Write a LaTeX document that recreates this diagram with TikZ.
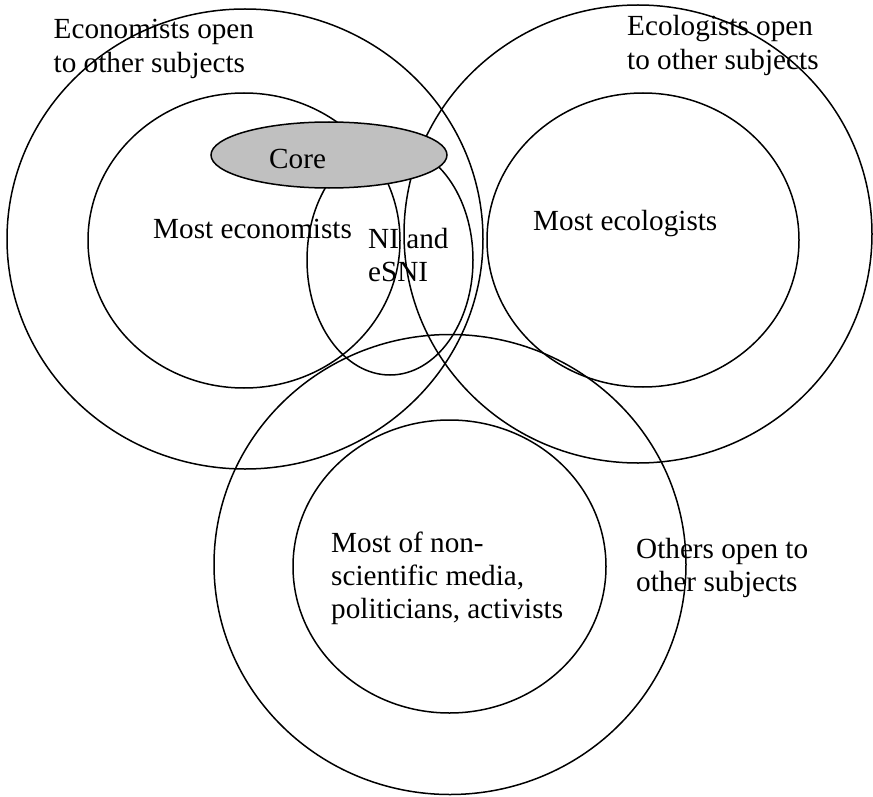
\documentclass[tikz,border=0pt]{standalone}
\usepackage{fontspec}
\setmainfont{Liberation Serif}
\usetikzlibrary{shapes.geometric}
\definecolor{coregray}{RGB}{192,192,192}
\begin{document}
\begin{tikzpicture}[x=1pt,y=-1pt,
  ring/.style={draw, ellipse, line width=1.5pt, inner sep=0pt, outer sep=0pt},
  lbl/.style={anchor=base west, inner sep=0pt, font=\fontsize{29.2}{33.6}\selectfont}]
\useasboundingbox (0,0) rectangle (873,797);
% outer circles
\node[ring, minimum width=476pt, minimum height=460pt] (econOuter) at (245,239) {};
\node[ring, minimum width=468pt, minimum height=458pt] (ecoOuter) at (638,234) {};
\node[ring, minimum width=472pt, minimum height=460pt] (othOuter) at (450,564.5) {};
% inner circles
\node[ring, minimum width=312pt, minimum height=295pt] (econInner) at (244,240.5) {};
\node[ring, minimum width=312pt, minimum height=294pt] (ecoInner) at (643,240) {};
\node[ring, minimum width=313pt, minimum height=293pt] (othInner) at (449.5,566.5) {};
% NI ellipse
\node[ring, minimum width=166pt, minimum height=230pt] (ni) at (390,260) {};
% core
\node[ring, fill=coregray, minimum width=236pt, minimum height=66pt] (core) at (329,155) {};
% labels
\node[lbl] (econT1) at (53.5,38.3) {Economists open};
\node[lbl] (econT2) at (53.5,72.3) {to other subjects};
\node[lbl] (ecoT1) at (627,36) {Ecologists open};
\node[lbl] (ecoT2) at (627,70) {to other subjects};
\node[lbl] (coreT) at (269,168.5) {Core};
\node[lbl] (econIn) at (153,238) {Most economists};
\node[lbl] (niT1) at (368,248.3) {NI and};
\node[lbl] (niT2) at (368,281.7) {eSNI};
\node[lbl] (ecoIn) at (533,230) {Most ecologists};
\node[lbl] (othIn1) at (331,552.5) {Most of non-};
\node[lbl] (othIn2) at (331,585.5) {scientific media,};
\node[lbl] (othIn3) at (331,618.5) {politicians, activists};
\node[lbl] (othT1) at (636,558) {Others open to};
\node[lbl] (othT2) at (636,591.5) {other subjects};
\end{tikzpicture}
\end{document}
